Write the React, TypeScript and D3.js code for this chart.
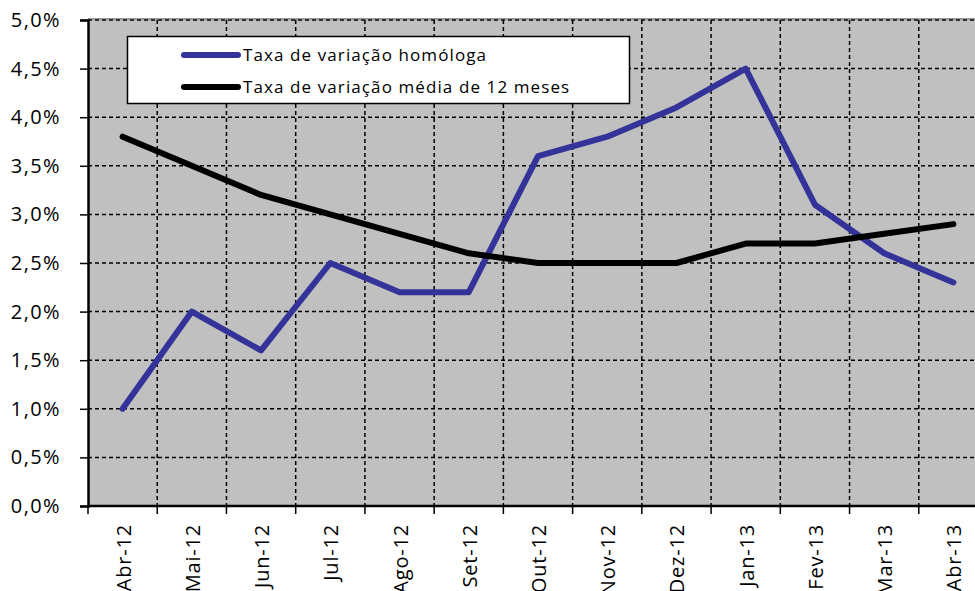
import React, { useEffect, useRef } from "react";
import * as d3 from "d3";

const months = [
  "Abr-12", "Mai-12", "Jun-12", "Jul-12", "Ago-12", "Set-12", "Out-12",
  "Nov-12", "Dez-12", "Jan-13", "Fev-13", "Mar-13", "Abr-13",
];
const homologa = [1.0, 2.0, 1.6, 2.5, 2.2, 2.2, 3.6, 3.8, 4.1, 4.5, 3.1, 2.6, 2.3];
const media12 = [3.8, 3.5, 3.2, 3.0, 2.8, 2.6, 2.5, 2.5, 2.5, 2.7, 2.7, 2.8, 2.9];
const yTicks = [0, 0.5, 1, 1.5, 2, 2.5, 3, 3.5, 4, 4.5, 5];
const seriesNames = ["Taxa de variação homóloga", "Taxa de variação média de 12 meses"];

const drawChart = (svgEl: SVGSVGElement) => {
  const width = 975;
  const height = 591;
  const marginLeft = 88;
  const plotRight = 988; // plot runs past the window edge
  const marginTop = 20;
  const plotBottom = 506;
  const font = "'Open Sans', sans-serif";

  const svg = d3.select(svgEl).attr("width", width).attr("height", height);
  svg.selectAll("*").remove();

  const x = d3.scaleBand().domain(months).range([marginLeft, plotRight]);
  const y = d3.scaleLinear().domain([0, 5]).range([plotBottom, marginTop]);
  const cx = (d: string) => (x(d) as number) + x.bandwidth() / 2;

  // plot background
  svg
    .append("rect")
    .attr("x", marginLeft)
    .attr("y", marginTop)
    .attr("width", plotRight - marginLeft)
    .attr("height", plotBottom - marginTop)
    .attr("fill", "#c0c0c0");

  // horizontal grid
  svg
    .append("g")
    .selectAll("line")
    .data(yTicks.slice(1))
    .join("line")
    .attr("x1", marginLeft)
    .attr("x2", plotRight)
    .attr("y1", (d) => y(d))
    .attr("y2", (d) => y(d))
    .attr("stroke", "#000")
    .attr("stroke-width", 1.5)
    .attr("stroke-dasharray", "4,3");

  // vertical grid at category boundaries
  svg
    .append("g")
    .selectAll("line")
    .data(months.slice(1))
    .join("line")
    .attr("x1", (d) => x(d) as number)
    .attr("x2", (d) => x(d) as number)
    .attr("y1", marginTop)
    .attr("y2", plotBottom)
    .attr("stroke", "#000")
    .attr("stroke-width", 1.5)
    .attr("stroke-dasharray", "4,3");

  // top border
  svg
    .append("line")
    .attr("x1", marginLeft)
    .attr("x2", plotRight)
    .attr("y1", marginTop - 1)
    .attr("y2", marginTop - 1)
    .attr("stroke", "#333")
    .attr("stroke-width", 1);

  // y axis
  const yAxis = svg
    .append("g")
    .attr("transform", `translate(${marginLeft},0)`)
    .call(
      d3
        .axisLeft(y)
        .tickValues(yTicks)
        .tickSize(8)
        .tickPadding(19)
        .tickFormat((d) => d3.format(".1f")(d as number).replace(".", ",") + "%")
    );
  yAxis.select(".domain").attr("stroke-width", 2.5);
  yAxis.selectAll(".tick line").attr("stroke-width", 1.5);
  yAxis
    .selectAll("text")
    .attr("font-family", font)
    .attr("font-size", 20)
    .attr("letter-spacing", 1.4)
    .attr("fill", "#000");

  // x axis, ticks at boundaries
  const xAxis = svg.append("g").attr("transform", `translate(0,${plotBottom})`);
  xAxis
    .append("line")
    .attr("x1", marginLeft)
    .attr("x2", plotRight)
    .attr("stroke", "#000")
    .attr("stroke-width", 2.5);
  xAxis
    .selectAll("line.tk")
    .data(months)
    .join("line")
    .attr("class", "tk")
    .attr("x1", (d) => x(d) as number)
    .attr("x2", (d) => x(d) as number)
    .attr("y1", 0)
    .attr("y2", 8)
    .attr("stroke", "#000")
    .attr("stroke-width", 1.5);
  xAxis
    .selectAll("text")
    .data(months)
    .join("text")
    .attr("transform", (d) => `translate(${cx(d) + 8},18) rotate(-90)`)
    .attr("text-anchor", "end")
    .attr("font-family", font)
    .attr("font-size", 20)
    .attr("letter-spacing", 0.8)
    .text((d) => d);

  // lines
  const line = d3
    .line<number>()
    .x((_, i) => cx(months[i]))
    .y((d) => y(d));

  svg
    .append("path")
    .datum(homologa)
    .attr("d", line)
    .attr("fill", "none")
    .attr("stroke", "#333399")
    .attr("stroke-width", 6)
    .attr("stroke-linejoin", "round")
    .attr("stroke-linecap", "round");

  svg
    .append("path")
    .datum(media12)
    .attr("d", line)
    .attr("fill", "none")
    .attr("stroke", "#000")
    .attr("stroke-width", 6)
    .attr("stroke-linejoin", "round")
    .attr("stroke-linecap", "round");

  // legend
  const legend = svg.append("g");
  legend
    .append("rect")
    .attr("x", 127.5)
    .attr("y", 36.5)
    .attr("width", 502)
    .attr("height", 67)
    .attr("fill", "#fff")
    .attr("stroke", "#000")
    .attr("stroke-width", 1.5);
  const colors = ["#333399", "#000"];
  seriesNames.forEach((name, i) => {
    const ly = 55 + i * 32;
    legend
      .append("line")
      .attr("x1", 184)
      .attr("x2", 238)
      .attr("y1", ly)
      .attr("y2", ly)
      .attr("stroke", colors[i])
      .attr("stroke-width", 6)
      .attr("stroke-linecap", "round");
    legend
      .append("text")
      .attr("x", 243)
      .attr("y", ly + 6)
      .attr("font-family", font)
      .attr("font-size", 17)
      .attr("letter-spacing", 1.1)
      .text(name);
  });
};

export default function App() {
  const ref = useRef<SVGSVGElement>(null);
  useEffect(() => {
    if (ref.current) drawChart(ref.current);
  }, []);
  return (
    <svg
      ref={ref}
      style={{ position: "absolute", left: 0, top: 0, display: "block" }}
    />
  );
}
